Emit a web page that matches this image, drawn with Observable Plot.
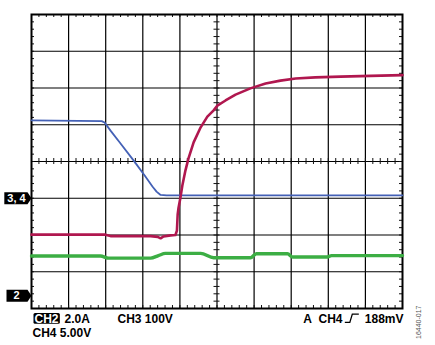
<!DOCTYPE html>
<html><head><meta charset="utf-8">
<script src="https://cdn.jsdelivr.net/npm/d3@7"></script>
<script src="https://cdn.jsdelivr.net/npm/@observablehq/plot@0.6"></script>
<style>body{margin:0;background:#fff} svg{display:block}</style>
</head><body>
<script>
// Time axis in divisions (0–10), level axis in divisions (0 = bottom, 8 = top)
const blueT = [0, 1.89, 1.97, 2.13, 2.40, 2.75, 3.07, 3.26, 3.37, 3.48, 3.64, 10];
const blueV = [5.12, 5.10, 5.06, 4.84, 4.49, 4.03, 3.59, 3.32, 3.18, 3.09, 3.08, 3.08];

const redT = [0, 1.99, 2.13, 3.21, 3.40, 3.48, 3.56, 3.75, 3.88, 3.92, 3.94, 3.96, 4.02, 4.07, 4.15, 4.23, 4.37, 4.56, 4.74, 4.91, 5.01, 5.23, 5.50, 5.90, 6.31, 6.71, 7.12, 7.65, 8.33, 9.14, 10];
const redV = [2.01, 2.01, 1.97, 1.97, 1.95, 1.91, 1.96, 1.99, 2.00, 2.12, 2.56, 2.72, 3.05, 3.37, 3.76, 4.08, 4.52, 4.93, 5.22, 5.39, 5.52, 5.66, 5.82, 5.99, 6.12, 6.20, 6.26, 6.29, 6.31, 6.33, 6.35];

const greenT = [0, 1.86, 2.08, 3.21, 3.42, 3.61, 4.56, 4.91, 5.90, 6.06, 6.90, 7.04, 7.95, 8.09, 10];
const greenV = [1.43, 1.43, 1.37, 1.37, 1.44, 1.50, 1.50, 1.38, 1.38, 1.49, 1.49, 1.40, 1.40, 1.44, 1.44];

const markerLabels = ["3, 4", "2"];
const markerLevels = [3, 0.35];

const chLabel = "CH2";
const ch2Scale = "2.0A";
const ch3Scale = "CH3 100V";
const ch4Scale = "CH4 5.00V";
const trigSource = "A\u00A0 CH4";
const trigLevel = "188mV";
const figId = "16440-017";

const toRows = (T, V) => T.map((t, i) => ({t, v: V[i]}));
const blue = toRows(blueT, blueV);
const red = toRows(redT, redV);
const green = toRows(greenT, greenV);
const markers = markerLabels.map((label, i) => ({label, level: markerLevels[i]}));

const minorX = d3.range(0, 10.001, 0.2);
const minorY = d3.range(0, 8.001, 0.2);
const font = "'Liberation Sans', Arial, sans-serif";
const tickStroke = "#111";

const chart = Plot.plot({
  width: 435, height: 345,
  marginLeft: 31, marginRight: 33, marginTop: 14, marginBottom: 37,
  x: {domain: [0, 10], axis: null},
  y: {domain: [0, 8], axis: null},
  style: {fontFamily: font, background: "white"},
  marks: [
    Plot.ruleX(d3.range(1, 10), {stroke: "#000", strokeWidth: 1.2}),
    Plot.ruleY(d3.range(1, 8), {stroke: "#000", strokeWidth: 1.2}),
    Plot.ruleX(minorX, {x: d => d, y1: 8, y2: 8, insetTop: 0, insetBottom: -3, stroke: tickStroke}),
    Plot.ruleX(minorX, {x: d => d, y1: 0, y2: 0, insetTop: -3, insetBottom: 0, stroke: tickStroke}),
    Plot.ruleX(minorX, {x: d => d, y1: 4, y2: 4, insetTop: -3, insetBottom: -3, stroke: tickStroke}),
    Plot.ruleY(minorY, {y: d => d, x1: 0, x2: 0, insetLeft: 0, insetRight: -3, stroke: tickStroke}),
    Plot.ruleY(minorY, {y: d => d, x1: 10, x2: 10, insetLeft: -3, insetRight: 0, stroke: tickStroke}),
    Plot.ruleY(minorY, {y: d => d, x1: 5, x2: 5, insetLeft: -3, insetRight: -3, stroke: tickStroke}),
    Plot.frame({stroke: "black", strokeWidth: 2}),
    Plot.line(blue, {x: "t", y: "v", stroke: "#4461b6", strokeWidth: 1.8}),
    Plot.line(red, {x: "t", y: "v", stroke: "#b0174f", strokeWidth: 2.6}),
    Plot.line(green, {x: "t", y: "v", stroke: "#3cae44", strokeWidth: 3.4, curve: "monotone-x"}),
    Plot.text(markers, {x: 0, y: "level", text: "label", textAnchor: "middle", dx: -15, fill: "white", fontWeight: "bold", fontSize: 11, ariaDescription: "marker"}),
    Plot.text([chLabel], {text: d => d, frameAnchor: "bottom-left", dx: 3, dy: 14, textAnchor: "start", fill: "white", fontWeight: "bold", fontSize: 12, ariaDescription: "badge"}),
    Plot.text([ch2Scale], {text: d => d, frameAnchor: "bottom-left", dx: 33, dy: 14, textAnchor: "start", fill: "black", fontWeight: "bold", fontSize: 12}),
    Plot.text([ch3Scale], {text: d => d, frameAnchor: "bottom-left", dx: 86, dy: 14, textAnchor: "start", fill: "black", fontWeight: "bold", fontSize: 12}),
    Plot.text([ch4Scale], {text: d => d, frameAnchor: "bottom-left", dx: 1, dy: 28, textAnchor: "start", fill: "black", fontWeight: "bold", fontSize: 12}),
    Plot.text([trigSource], {text: d => d, frameAnchor: "bottom-right", dx: -60, dy: 14, textAnchor: "end", fill: "black", fontWeight: "bold", fontSize: 12, ariaDescription: "trig"}),
    Plot.text([trigLevel], {text: d => d, frameAnchor: "bottom-right", dx: 1, dy: 14, textAnchor: "end", fill: "black", fontWeight: "bold", fontSize: 12}),
    Plot.text([figId], {text: d => d, frameAnchor: "bottom-right", dx: 18, dy: -3, rotate: -90, fill: "#555", fontSize: 7})
  ]
});
document.body.append(chart);

const NS = "http://www.w3.org/2000/svg";
const svgSel = d3.select(chart.tagName.toLowerCase() === "svg" ? chart : chart.querySelector("svg"));
// black badge behind "CH2"
svgSel.selectAll('g[aria-description="badge"] text').each(function () {
  const b = this.getBBox();
  const r = document.createElementNS(NS, "rect");
  r.setAttribute("x", b.x - 1);
  r.setAttribute("y", b.y + 1.6);
  r.setAttribute("width", b.width + 2);
  r.setAttribute("height", 10.6);
  r.setAttribute("rx", 1.5);
  r.setAttribute("fill", "black");
  if (this.getAttribute("transform")) r.setAttribute("transform", this.getAttribute("transform"));
  this.parentNode.insertBefore(r, this);
});
// arrow-shaped channel reference markers
svgSel.selectAll('g[aria-description="marker"] text').each(function () {
  const b = this.getBBox();
  const tip = 15; // local x of the frame's left edge (offset by dx)
  const right = tip - 4;
  const left = Math.min(b.x - 3, right - 21);
  const p = document.createElementNS(NS, "path");
  p.setAttribute("d", `M${left},-6H${right}L${tip},0L${right},6H${left}Z`);
  p.setAttribute("fill", "black");
  if (this.getAttribute("transform")) p.setAttribute("transform", this.getAttribute("transform"));
  this.parentNode.insertBefore(p, this);
});
// rising-edge trigger symbol
svgSel.selectAll('g[aria-description="trig"] text').each(function () {
  const b = this.getBBox();
  const x0 = b.x + b.width + 2;
  const base = b.y + 10.9;
  const p = document.createElementNS(NS, "path");
  p.setAttribute("d", `M${x0},${base}H${x0 + 5}L${x0 + 7.5},${base - 8.3}H${x0 + 14}`);
  p.setAttribute("fill", "none");
  p.setAttribute("stroke", "black");
  p.setAttribute("stroke-width", 1.3);
  if (this.getAttribute("transform")) p.setAttribute("transform", this.getAttribute("transform"));
  this.parentNode.appendChild(p);
});
</script>
</body></html>
